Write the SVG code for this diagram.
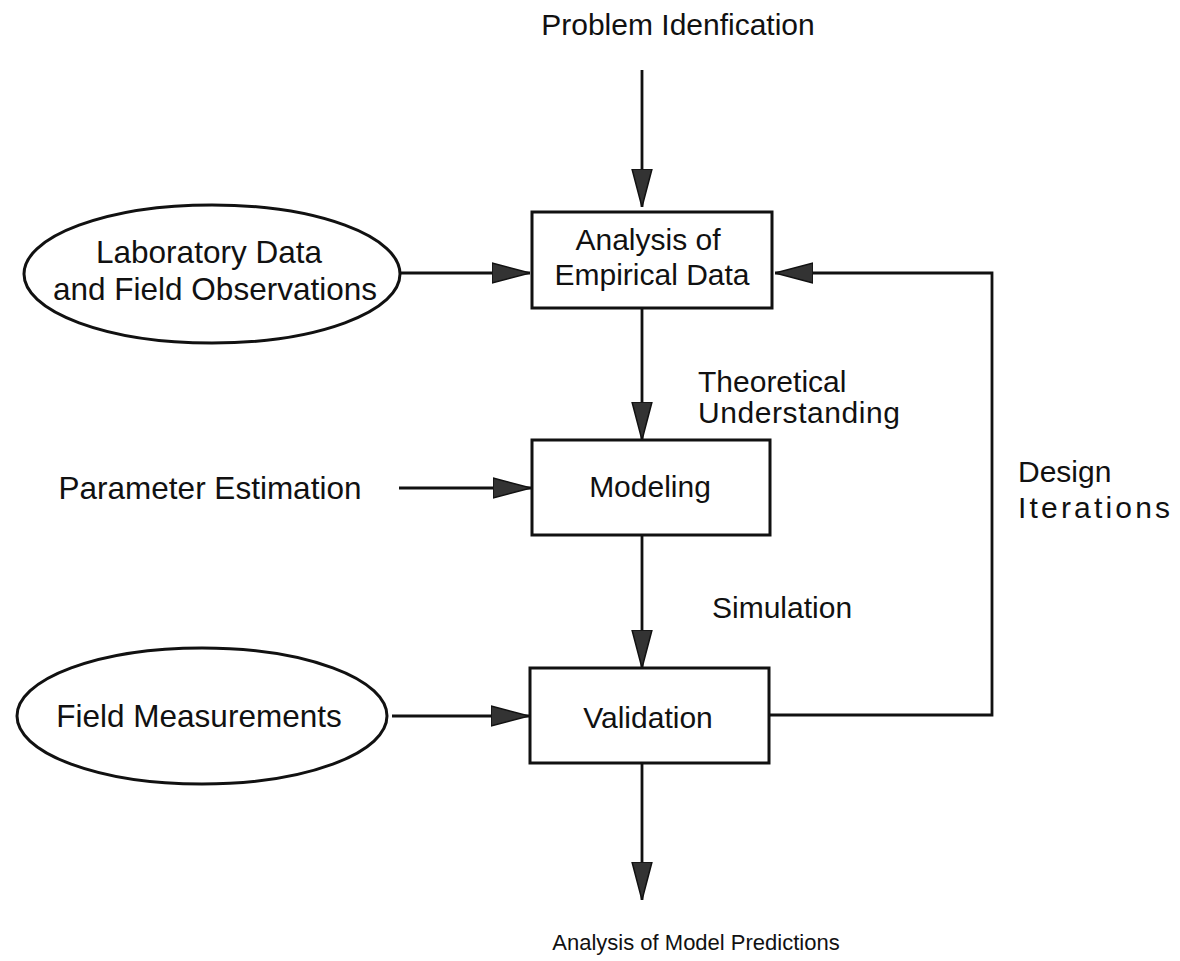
<svg xmlns="http://www.w3.org/2000/svg" width="1180" height="961" viewBox="0 0 1180 961">
<style>
text{font-family:"Liberation Sans",Arial,Helvetica,sans-serif;font-size:30px;fill:#111}
.big{font-size:31.5px}
.box{fill:#fff;stroke:#111;stroke-width:3}
.ell{fill:#fff;stroke:#111;stroke-width:3}
.c{fill:none;stroke:#111;stroke-width:2.8}
.mid{text-anchor:middle}
</style>
<defs>
<marker id="ah" viewBox="0 0 38 22" refX="38" refY="11" markerWidth="38" markerHeight="22" markerUnits="userSpaceOnUse" orient="auto">
<path d="M0,1 L38,11 L0,21 Z" fill="#333" stroke="#111" stroke-width="1.5"/>
</marker>
</defs>
<rect width="1180" height="961" fill="#fff"/>
<g id="connectors">
<line class="c" x1="642" y1="70" x2="642" y2="207" marker-end="url(#ah)"/>
<line class="c" x1="400" y1="273" x2="530" y2="273" marker-end="url(#ah)"/>
<line class="c" x1="642" y1="308" x2="642" y2="440" marker-end="url(#ah)"/>
<line class="c" x1="399" y1="488" x2="531" y2="488" marker-end="url(#ah)"/>
<line class="c" x1="642" y1="535" x2="642" y2="668" marker-end="url(#ah)"/>
<line class="c" x1="392" y1="716" x2="529" y2="716" marker-end="url(#ah)"/>
<polyline class="c" points="769,715 992,715 992,273 775,273" marker-end="url(#ah)"/>
<line class="c" x1="642" y1="763" x2="642" y2="900" marker-end="url(#ah)"/>
</g>
<g id="problem"><text class="mid" x="678" y="35">Problem Idenfication</text></g>
<g id="lab">
<ellipse class="ell" cx="212" cy="274" rx="188" ry="69"/>
<text class="mid big" x="209" y="263">Laboratory Data</text>
<text class="mid big" x="215" y="300">and Field Observations</text>
</g>
<g id="analysis">
<rect class="box" x="532" y="212" width="240" height="96"/>
<text class="mid" x="648" y="250">Analysis of</text>
<text class="mid" x="652" y="285">Empirical Data</text>
</g>
<g id="theory-label">
<text x="698" y="392">Theoretical</text>
<text x="698" y="423" textLength="202">Understanding</text>
</g>
<g id="param"><text class="mid big" x="210" y="499">Parameter Estimation</text></g>
<g id="modeling">
<rect class="box" x="532" y="440" width="238" height="95"/>
<text class="mid" x="650" y="497">Modeling</text>
</g>
<g id="design-label">
<text x="1018" y="482">Design</text>
<text x="1018" y="518" textLength="152">Iterations</text>
</g>
<g id="sim-label"><text x="712" y="618">Simulation</text></g>
<g id="field">
<ellipse class="ell" cx="202" cy="716" rx="185" ry="68"/>
<text class="mid big" x="199" y="727">Field Measurements</text>
</g>
<g id="validation">
<rect class="box" x="530" y="668" width="239" height="95"/>
<text class="mid" x="648" y="728">Validation</text>
</g>
<g id="predictions"><text class="mid" x="696" y="950" style="font-size:22px">Analysis of Model Predictions</text></g>
</svg>
